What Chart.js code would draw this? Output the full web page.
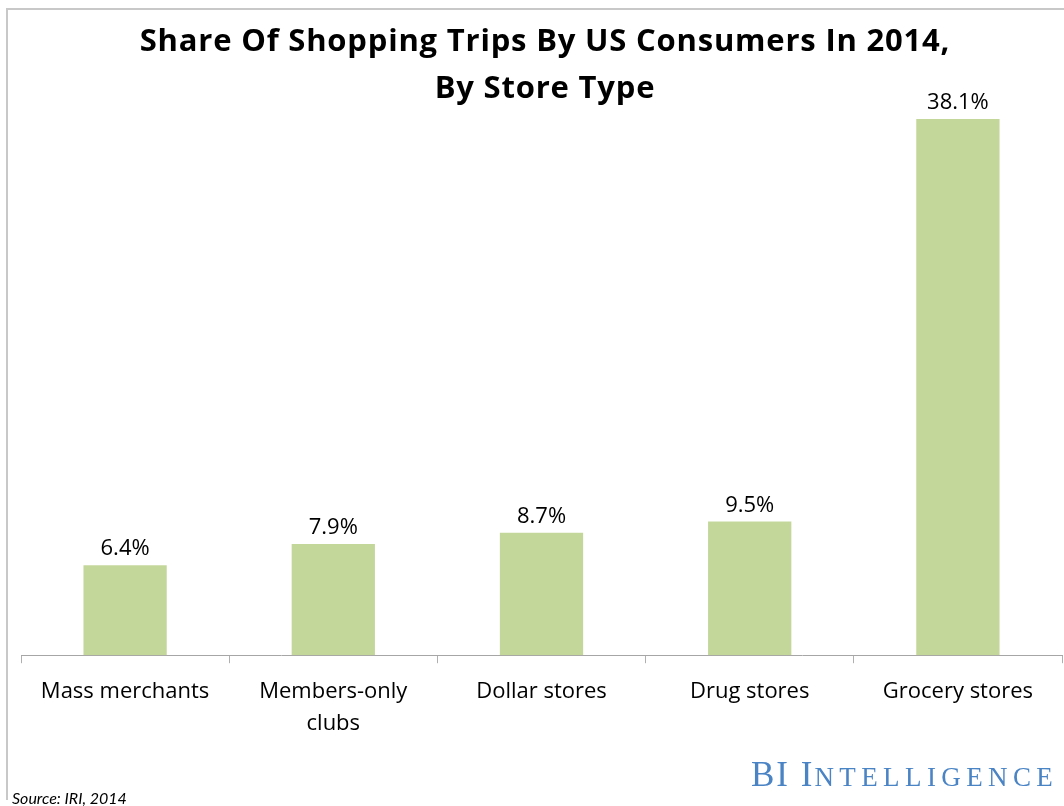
<!DOCTYPE html>
<html>
<head>
<meta charset="utf-8">
<script src="https://cdn.jsdelivr.net/npm/chart.js@4.4.1/dist/chart.umd.min.js"></script>
<style>
    html, body { margin: 0; padding: 0; background: #fff; }
    #wrap { position: relative; width: 1064px; height: 806px; overflow: hidden; }
    #frame { position: absolute; left: 6px; top: 8px; width: 1100px; height: 790px;
             border-left: 2px solid #c8c8c8; border-top: 2px solid #c8c8c8; }
    #chart { position: absolute; left: 0; top: 0; }
    .title { position: absolute; left: 0; width: 1090px; text-align: center; white-space: nowrap;
             font-family: "Open Sans", sans-serif; font-weight: bold; font-size: 31px;
             letter-spacing: 0.8px; color: #000; }
    #logo { position: absolute; left: 751px; top: 757px; height: 35px; line-height: 35px;
            font-family: "Liberation Serif", serif; color: #4a84c5; white-space: nowrap; }
    #logo .big { font-size: 35px; letter-spacing: 2px; }
    #logo .small { font-size: 27px; letter-spacing: 5.4px; }
    #source { position: absolute; left: 12px; top: 788px; font-family: Lato, sans-serif;
              font-style: italic; font-size: 16px; color: #000; }
</style>
</head>
<body>
<div id="wrap">
    <div id="frame"></div>
    <canvas id="chart" width="1064" height="806"></canvas>
    <div class="title" style="top:18px">Share Of Shopping Trips By US Consumers In 2014,</div>
    <div class="title" style="top:65px">By Store Type</div>
    <div id="logo"><span class="big">BI I</span><span class="small">NTELLIGENCE</span></div>
    <div id="source">Source: IRI, 2014</div>
</div>
<script>
const storeTypes = ['Mass merchants', ['Members-only', 'clubs'], 'Dollar stores', 'Drug stores', 'Grocery stores'];
const tripShare = [6.4, 7.9, 8.7, 9.5, 38.1];
const valueLabels = ['6.4%', '7.9%', '8.7%', '9.5%', '38.1%'];

// writes the percentage above each bar
const barValues = {
    id: 'barValues',
    afterDatasetsDraw(chart) {
        const ctx = chart.ctx;
        const meta = chart.getDatasetMeta(0);
        ctx.save();
        ctx.font = '22px "Open Sans", sans-serif';
        ctx.fillStyle = '#000';
        ctx.textAlign = 'center';
        ctx.textBaseline = 'alphabetic';
        meta.data.forEach((bar, i) => {
            ctx.fillText(valueLabels[i], bar.x, bar.y - 10);
        });
        ctx.restore();
    }
};

new Chart(document.getElementById('chart'), {
    type: 'bar',
    data: {
        labels: storeTypes,
        datasets: [{
            data: tripShare,
            backgroundColor: '#c4d79b',
            categoryPercentage: 1,
            barPercentage: 0.4
        }]
    },
    options: {
        responsive: false,
        animation: false,
        layout: { padding: { left: 21, right: 2, top: 22, bottom: 53 } },
        plugins: { legend: { display: false }, tooltip: { enabled: false } },
        scales: {
            x: {
                offset: true,
                grid: { offset: true, drawOnChartArea: false, tickLength: 8, color: '#b0b0b0', lineWidth: 1 },
                border: { color: '#a6a6a6', width: 1 },
                ticks: {
                    color: '#000', font: { family: 'Open Sans', size: 22, lineHeight: 1.45 },
                    padding: 13, maxRotation: 0, autoSkip: false
                }
            },
            y: { display: false, min: 0, max: 45 }
        }
    },
    plugins: [barValues]
});
</script>
</body>
</html>
